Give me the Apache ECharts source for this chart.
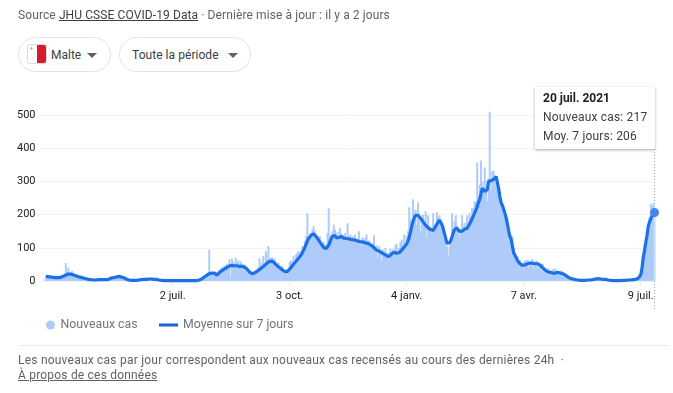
<!DOCTYPE html>
<html lang="fr">
<head>
<meta charset="utf-8">
<style>
html,body{margin:0;padding:0;background:#fff;width:673px;height:393px;overflow:hidden;font-family:Roboto,Arial,sans-serif;}
#chart{position:absolute;left:0;top:0;width:673px;height:393px;}
.t{position:absolute;white-space:nowrap;font-size:12px;line-height:16px;color:#5f6368;}
.t u{color:#3c4043;}
.chip{position:absolute;top:37px;height:35px;border:1px solid #e3e3e3;border-radius:18px;box-sizing:border-box;background:#fff;}
.arrow{position:absolute;top:15px;width:0;height:0;border-left:5px solid transparent;border-right:5px solid transparent;border-top:5px solid #5f6368;}
.flag{position:absolute;left:9px;top:7px;width:18px;height:18px;border-radius:2px;overflow:hidden;box-shadow:0 0 0 1px #dadce0;background:linear-gradient(90deg,#fff 0 50%,#d81b30 50% 100%);}
.flag i{position:absolute;left:2px;top:2px;width:3px;height:3px;background:linear-gradient(#bbb,#bbb) center/100% 1px no-repeat,linear-gradient(#bbb,#bbb) center/1px 100% no-repeat;}
.rule{position:absolute;left:18px;top:345px;width:652px;height:1px;background:#ebebeb;}
</style>
</head>
<body>
<div id="chart"></div>
<div class="t" style="left:18px;top:7px;letter-spacing:.1px;">Source <u>JHU CSSE COVID-19 Data</u> · Dernière mise à jour : il y a 2 jours</div>
<div class="chip" style="left:18px;width:93px;"><div class="flag"><i></i></div><div class="t" style="left:32px;top:9px;color:#3c4043;">Malte</div><div class="arrow" style="left:68px;"></div></div>
<div class="chip" style="left:119px;width:132px;"><div class="t" style="left:12px;top:9px;color:#3c4043;letter-spacing:.05px;">Toute la période</div><div class="arrow" style="left:108px;"></div></div>
<div class="rule"></div>
<div class="t" style="left:18px;top:352px;letter-spacing:.22px;">Les nouveaux cas par jour correspondent aux nouveaux cas recensés au cours des dernières 24h &nbsp;·</div>
<div class="t" style="left:18px;top:367px;letter-spacing:.2px;"><u style="color:#5f6368">À propos de ces données</u></div>
<script src="https://cdn.jsdelivr.net/npm/echarts@6/dist/echarts.min.js"></script>
<script>
const firstDay = '2020-03-23';
const newCases = [
8,14,18,10,12,9,14,6,16,13,
9,11,8,18,14,20,54,28,40,22,
25,30,24,16,12,18,9,13,8,10,
7,5,9,3,6,2,4,6,2,3,
2,5,3,4,6,2,5,1,4,6,
4,11,8,14,12,9,15,10,17,13,
11,16,8,10,5,4,2,4,1,2,
1,3,2,4,2,6,3,5,7,4,
4,8,5,6,9,5,4,7,3,5,
2,2,1,3,0,1,2,0,1,1,
0,1,2,0,1,1,0,3,1,0,
1,0,2,1,0,1,0,2,1,1,
0,3,2,5,8,9,6,12,22,18,
95,20,24,26,24,28,14,22,33,36,
42,36,46,40,52,48,66,12,68,58,
48,70,55,62,42,60,52,46,50,38,
42,36,26,26,28,18,30,34,30,42,
68,44,55,75,50,90,62,105,60,70,
72,56,68,48,50,56,42,36,46,30,
32,26,34,40,58,62,52,75,58,80,
85,90,78,88,105,100,120,135,204,128,
135,145,155,165,150,135,132,125,135,110,
110,118,100,110,145,219,125,140,150,170,
155,126,148,135,160,145,138,128,144,132,
174,122,140,125,135,128,140,122,125,150,
125,108,132,118,128,140,115,122,105,100,
112,138,100,108,72,105,95,60,95,85,
100,78,85,62,98,78,95,88,108,112,
82,100,118,125,100,140,108,135,150,222,
185,165,246,200,215,170,237,185,150,185,
200,175,210,130,198,165,155,145,204,150,
170,207,190,198,185,165,125,135,125,105,
75,105,125,204,150,180,198,165,145,130,
150,198,165,175,150,198,175,205,195,220,
215,240,235,357,255,290,363,300,270,342,
275,240,310,510,275,330,333,305,290,310,
260,270,225,225,220,190,180,190,150,135,
120,135,100,80,70,75,55,62,48,55,
38,62,50,64,42,60,45,66,38,58,
62,40,55,46,30,52,25,40,22,38,
34,18,30,36,22,38,28,18,30,24,
32,20,14,18,8,15,12,5,9,4,
7,3,5,2,4,1,3,2,4,1,
3,4,2,5,6,3,7,9,5,8,
9,5,7,4,6,3,6,2,4,1,
3,1,2,0,1,2,1,2,1,3,
2,4,1,3,5,2,6,3,7,4,
8,6,12,18,42,70,108,100,145,155,
190,232,222,234,217
];
const avg7 = [
14,14,13,13,12,12,11,11,10,10,
10,10,11,12,14,16,18,20,21,21,
21,20,18,17,16,14,13,12,11,11,
9,8,7,6,5,4,4,4,3,3,
3,3,4,4,4,4,4,3,4,4,
5,7,9,10,10,11,12,13,14,13,
12,11,10,8,6,4,3,3,2,2,
2,2,2,3,3,4,4,5,5,5,
5,6,6,6,6,6,5,5,5,4,
3,2,2,1,1,1,1,1,1,1,
1,1,1,1,1,1,1,1,1,1,
1,1,1,1,1,1,1,1,1,1,
1,2,3,4,6,8,12,15,17,18,
22,23,24,25,24,22,18,21,25,28,
31,34,36,38,41,43,45,46,47,46,
46,47,46,45,44,44,44,43,42,40,
36,32,27,24,22,22,24,27,29,32,
35,38,41,44,47,50,54,57,59,61,
60,57,54,50,46,43,40,37,34,32,
29,28,28,31,36,41,46,50,55,60,
64,69,73,78,85,93,101,110,120,128,
133,138,141,142,139,134,128,123,118,112,
106,101,99,98,101,108,118,128,135,141,
137,130,127,131,136,134,131,129,128,128,
130,127,129,125,128,124,127,122,124,119,
123,118,121,117,119,114,116,112,113,107,
104,100,97,93,92,90,87,85,83,81,
80,76,78,74,77,82,84,86,85,84,
84,85,88,93,99,102,106,112,120,132,
148,165,180,190,198,200,198,192,189,186,
178,172,168,163,160,158,155,153,152,153,
165,172,178,183,178,170,158,143,128,114,
111,115,122,133,145,155,160,159,154,149,
147,150,153,156,158,159,164,172,180,188,
196,205,214,224,237,245,262,279,275,270,
267,275,300,295,302,305,306,310,315,312,
280,255,237,228,222,205,190,172,152,135,
125,105,85,78,72,62,56,52,50,47,
46,49,48,52,50,54,51,53,49,52,
53,52,50,48,44,40,36,33,30,28,
29,26,25,24,25,24,25,26,25,24,
23,22,21,18,15,12,10,8,7,6,
5,4,3,3,2,2,2,2,2,2,
2,3,3,3,4,4,5,6,6,7,
7,6,6,5,5,5,4,3,3,2,
2,1,1,1,1,1,1,1,2,2,
2,2,3,3,3,3,4,4,5,5,
6,8,10,18,38,70,92,115,138,165,
178,188,195,200,206
];
const yTicks = [0,100,200,300,400,500];
const tickDays = {'2020-07-02':'2 juil.','2020-10-03':'3 oct.','2021-01-04':'4 janv.','2021-04-07':'7 avr.','2021-07-09':'9 juil.'};
const tipTitle = '20 juil. 2021';
const seriesNames = ['Nouveaux cas','Moyenne sur 7 jours'];

const leadIn = 6; // empty days so the gridlines start left of the first bar
const start = Date.parse(firstDay + 'T00:00:00Z');
const days = newCases.map((_, i) => new Date(start + i * 864e5).toISOString().slice(0, 10));
const pad = Array(leadIn).fill(null);
const cats = pad.map((_, i) => 'pad' + i).concat(days);
const lastCat = days[days.length - 1];
const lastAvg = avg7[avg7.length - 1];
const lastNew = newCases[newCases.length - 1];
const isTick = (idx, v) => Object.prototype.hasOwnProperty.call(tickDays, v);
const legendText = {fontSize:12.3,color:'#70757a',fontFamily:'Roboto, Arial, sans-serif'};

const chart = echarts.init(document.getElementById('chart'), null, {renderer:'canvas'});
chart.setOption({
  animation:false,
  textStyle:{fontFamily:'Roboto, Arial, sans-serif'},
  grid:{left:37.5,width:617.7,top:115,height:166,containLabel:false},
  legend:[
    {left:41,top:314,itemWidth:10,itemHeight:9,selectedMode:false,textStyle:legendText,
     data:[{name:seriesNames[0],icon:'circle'}]},
    {left:154,top:314,itemWidth:19,itemHeight:9,selectedMode:false,textStyle:legendText,
     data:[{name:seriesNames[1],icon:'path://M0 0H100V16H0Z'}]}
  ],
  tooltip:{
    trigger:'axis',alwaysShowContent:true,showContent:true,triggerOn:'none',
    axisPointer:{type:'none'},
    position:[535,87],
    padding:[2,8,3,8],borderWidth:0,backgroundColor:'#fff',
    extraCssText:'box-shadow:0 1px 3px rgba(60,64,67,.45);border-radius:1px;width:104px;height:57px;',
    formatter:function(){
      return '<div style="font:12px/19px Roboto,Arial,sans-serif;letter-spacing:.18px;color:#3c4043;white-space:nowrap">'+
        '<b style="color:#202124;letter-spacing:0">'+tipTitle+'</b><br>Nouveaux cas: '+lastNew+'<br>Moy. 7 jours: '+lastAvg+'</div>';
    }
  },
  xAxis:{
    type:'category',data:cats,boundaryGap:true,
    axisLine:{show:false},
    axisTick:{show:true,alignWithLabel:true,length:5,interval:isTick,lineStyle:{color:'#e8eaed'}},
    axisLabel:{interval:isTick,formatter:v=>tickDays[v]||'',fontSize:11,color:'#202124',margin:10,hideOverlap:false},
    splitLine:{show:false}
  },
  yAxis:{
    type:'value',min:yTicks[0],max:yTicks[yTicks.length-1],interval:100,
    axisLine:{show:false},axisTick:{show:false},
    axisLabel:{fontSize:11,color:'#202124',margin:2,padding:[2,0,0,0]},
    splitLine:{show:true,lineStyle:{color:'#f1f3f4',width:1}}
  },
  series:[
    {name:seriesNames[0],type:'bar',data:pad.concat(newCases),barWidth:2,clip:false,
     itemStyle:{color:'#aecbfa'},z:2,silent:true},
    {name:seriesNames[1],type:'line',data:pad.concat(avg7),showSymbol:false,symbol:'none',clip:false,
     lineStyle:{color:'#1967d2',width:3.2},itemStyle:{color:'#1967d2'},z:3,silent:true,
     markPoint:{symbol:'circle',symbolSize:9,silent:true,label:{show:false},itemStyle:{color:'#4285f4'},
       data:[{coord:[lastCat,lastAvg]}]}}
  ]
});
const px = chart.convertToPixel({xAxisIndex:0}, lastCat);
chart.setOption({graphic:[{type:'line',z:1,silent:true,
  shape:{x1:px,y1:149,x2:px,y2:310},
  style:{stroke:'#9aa0a6',lineWidth:1,lineDash:[1,2]}}]});
chart.dispatchAction({type:'showTip',seriesIndex:1,dataIndex:cats.length-1});
</script>
</body>
</html>
